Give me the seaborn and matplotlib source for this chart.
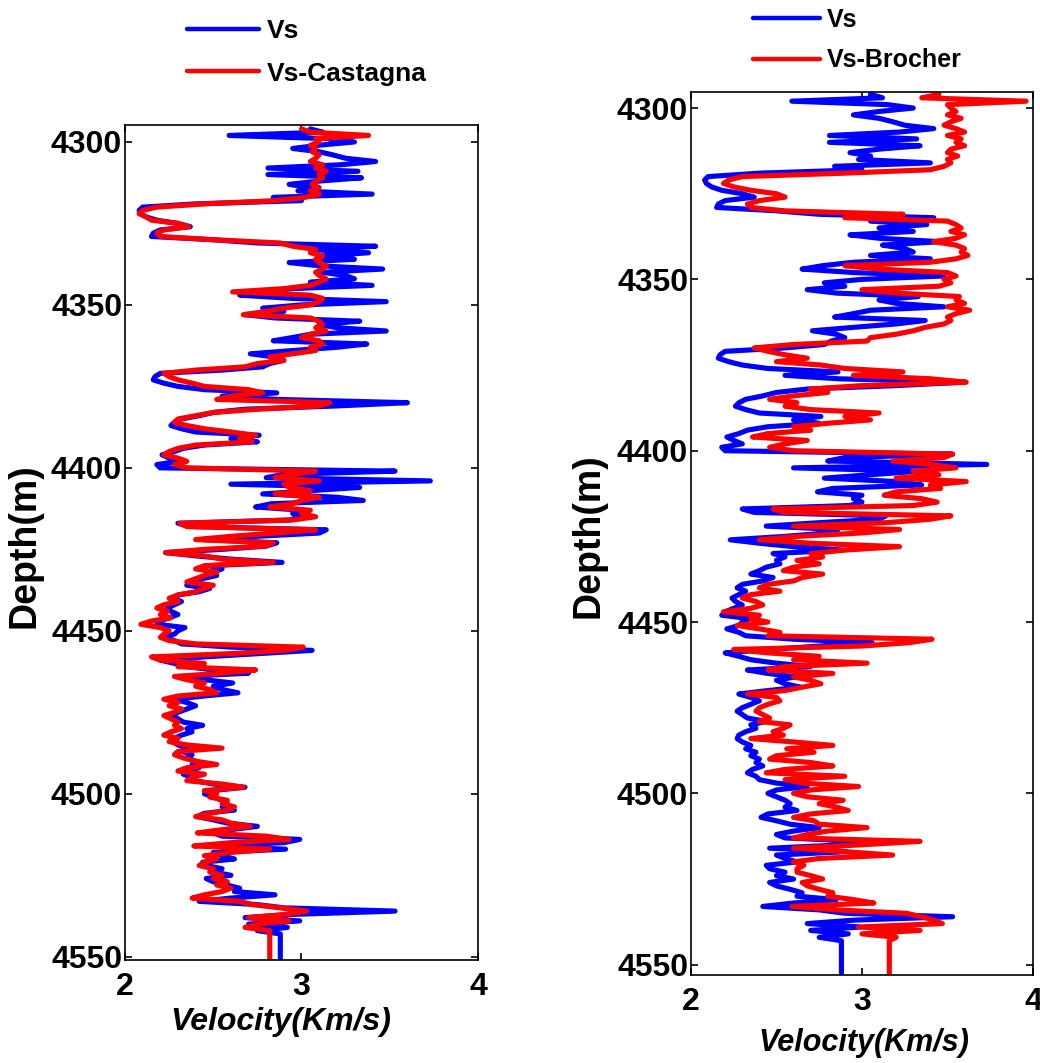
import numpy as np
import pandas as pd
import matplotlib
matplotlib.use("Agg")
import matplotlib.pyplot as plt
import seaborn as sns
from matplotlib.lines import Line2D

# ---------------- data (1 m sampling) ----------------
depth_start = 4296          # first sample depth (m)
tail_depth = 4560           # log continues (constant) past the bottom of the plot

vs = [
    3.05, 3.12, 2.59, 3.15, 3.30, 3.10, 2.95, 3.10, 3.18, 3.25,
    3.42, 3.22, 2.81, 3.32, 2.81, 3.34, 3.10, 2.93, 3.05, 2.98,
    3.40, 2.84, 3.00, 2.40, 2.10, 2.08, 2.09, 2.12, 2.18, 2.30,
    2.37, 2.20, 2.16, 2.15, 2.50, 2.75, 3.42, 3.05, 3.38, 3.10,
    3.30, 2.93, 3.10, 3.46, 3.12, 3.25, 3.30, 3.05, 3.40, 2.95,
    2.77, 2.65, 2.95, 3.48, 3.00, 2.78, 2.90, 2.68, 2.85, 3.33,
    3.10, 3.20, 3.48, 3.05, 2.95, 2.84, 3.37, 3.20, 2.95, 2.71,
    2.85, 2.90, 2.82, 2.78, 2.55, 2.20, 2.17, 2.16, 2.22, 2.30,
    2.45, 2.86, 2.55, 2.86, 3.60, 3.20, 2.68, 2.50, 2.42, 2.32,
    2.28, 2.26, 2.32, 2.40, 2.76, 2.60, 2.75, 2.45, 2.33, 2.28,
    2.21, 2.25, 2.30, 2.18, 2.20, 3.53, 2.90, 2.80, 3.73, 2.60,
    3.33, 3.05, 2.78, 3.20, 3.35, 2.83, 2.74, 3.00, 2.95, 3.00,
    2.93, 2.30, 2.37, 3.14, 3.10, 2.75, 2.44, 2.86, 2.80, 2.55,
    2.23, 2.40, 2.60, 2.89, 2.48, 2.55, 2.50, 2.52, 2.44, 2.40,
    2.35, 2.48, 2.42, 2.30, 2.27, 2.32, 2.28, 2.24, 2.26, 2.30,
    2.25, 2.20, 2.18, 2.34, 2.30, 2.28, 2.21, 2.28, 2.32, 2.60,
    3.06, 2.75, 2.45, 2.20, 2.28, 2.35, 2.50, 2.70, 2.33, 2.45,
    2.61, 2.50, 2.55, 2.64, 2.45, 2.28, 2.35, 2.40, 2.35, 2.30,
    2.27, 2.30, 2.33, 2.44, 2.35, 2.38, 2.32, 2.28, 2.27, 2.30,
    2.35, 2.32, 2.38, 2.35, 2.40, 2.38, 2.42, 2.36, 2.33, 2.38,
    2.40, 2.50, 2.68, 2.50, 2.45, 2.50, 2.55, 2.58, 2.55, 2.62,
    2.45, 2.41, 2.50, 2.58, 2.75, 2.60, 2.50, 2.55, 2.99, 2.90,
    2.46, 2.91, 2.50, 2.55, 2.62, 2.44, 2.46, 2.55, 2.50, 2.60,
    2.46, 2.50, 2.58, 2.65, 2.62, 2.85, 2.60, 2.42, 2.75, 2.90,
    3.53, 2.95, 2.68, 2.99, 2.70, 2.92, 2.75, 2.88,
]

vs_castagna = [
    3.00, 3.05, 3.38, 3.08, 3.10, 3.05, 3.08, 3.06, 3.10, 3.08,
    3.05, 3.12, 3.08, 3.14, 3.10, 3.12, 3.08, 3.06, 3.10, 3.05,
    3.10, 3.02, 2.85, 2.45, 2.18, 2.10, 2.08, 2.12, 2.15, 2.30,
    2.36, 2.22, 2.18, 2.20, 2.50, 2.88, 2.95, 3.08, 3.05, 3.12,
    3.08, 3.10, 3.14, 3.12, 3.08, 3.10, 3.14, 3.10, 3.05, 2.90,
    2.61, 3.05, 3.12, 3.10, 3.05, 2.90, 2.80, 2.67, 3.05, 3.10,
    3.12, 3.08, 3.14, 3.05, 3.00, 3.10, 3.12, 3.05, 3.08, 2.95,
    2.82, 2.90, 2.75, 2.68, 2.40, 2.22, 2.25, 2.30, 2.38, 2.45,
    2.70, 2.78, 2.60, 2.52, 3.16, 3.10, 2.75, 2.50, 2.40, 2.30,
    2.28, 2.35, 2.45, 2.60, 2.74, 2.65, 2.72, 2.40, 2.30, 2.25,
    2.22, 2.30, 2.35, 2.28, 2.35, 3.08, 2.95, 2.85, 3.10, 2.90,
    2.93, 3.05, 2.85, 3.10, 3.00, 2.95, 2.82, 3.05, 3.00, 3.08,
    2.95, 2.31, 2.35, 3.08, 2.85, 2.60, 2.40, 2.84, 2.80, 2.45,
    2.23, 2.45, 2.55, 2.84, 2.45, 2.40, 2.52, 2.45, 2.40, 2.35,
    2.50, 2.45, 2.40, 2.30, 2.25, 2.30, 2.22, 2.18, 2.24, 2.20,
    2.26, 2.15, 2.09, 2.20, 2.25, 2.22, 2.20, 2.25, 2.40, 3.01,
    2.90, 2.60, 2.15, 2.20, 2.45, 2.30, 2.74, 2.55, 2.28, 2.35,
    2.45, 2.40, 2.48, 2.52, 2.30, 2.22, 2.30, 2.25, 2.32, 2.28,
    2.22, 2.26, 2.30, 2.28, 2.32, 2.26, 2.22, 2.30, 2.25, 2.35,
    2.55, 2.30, 2.28, 2.33, 2.40, 2.52, 2.35, 2.30, 2.45, 2.38,
    2.35, 2.55, 2.67, 2.45, 2.52, 2.48, 2.58, 2.55, 2.62, 2.58,
    2.48, 2.40, 2.55, 2.60, 2.71, 2.55, 2.41, 2.80, 2.93, 2.60,
    2.39, 2.82, 2.60, 2.45, 2.52, 2.45, 2.42, 2.50, 2.48, 2.55,
    2.50, 2.58, 2.52, 2.60, 2.55, 2.45, 2.38, 2.65, 2.72, 2.88,
    3.03, 2.91, 2.70, 2.93, 2.75, 2.68, 2.82, 2.82,
]

vs_brocher = [
    3.45, 3.35, 3.96, 3.50, 3.52, 3.55, 3.50, 3.58, 3.52, 3.48,
    3.55, 3.60, 3.50, 3.58, 3.55, 3.60, 3.52, 3.50, 3.56, 3.50,
    3.52, 3.48, 3.40, 2.90, 2.30, 2.22, 2.19, 2.25, 2.35, 2.50,
    2.55, 2.40, 2.33, 2.35, 2.55, 3.24, 2.90, 3.50, 3.55, 3.58,
    3.52, 3.60, 3.55, 3.42, 3.55, 3.60, 3.58, 3.62, 3.55, 3.40,
    2.90, 3.10, 3.50, 3.55, 3.48, 3.52, 3.45, 3.00, 3.20, 3.57,
    3.55, 3.60, 3.50, 3.63, 3.55, 3.50, 3.52, 3.48, 3.37, 3.30,
    3.20, 3.05, 3.03, 2.60, 2.37, 2.45, 2.55, 2.68, 2.50, 2.76,
    2.90, 3.24, 2.95, 3.40, 3.61, 3.00, 2.70, 2.80, 2.60, 2.46,
    2.62, 2.55, 2.70, 3.10, 2.90, 3.05, 2.80, 2.60, 2.70, 2.45,
    2.36, 2.68, 2.55, 2.46, 2.60, 3.53, 3.48, 3.18, 3.40, 3.55,
    3.30, 3.45, 3.20, 3.61, 3.40, 3.46, 3.20, 3.13, 3.35, 3.44,
    3.30, 2.48, 2.55, 3.52, 3.40, 3.14, 2.60, 3.22, 3.00, 2.62,
    2.40, 2.70, 3.22, 2.90, 2.70, 2.77, 2.62, 2.75, 2.60, 2.54,
    2.77, 2.65, 2.60, 2.45, 2.40, 2.52, 2.35, 2.30, 2.38, 2.42,
    2.35, 2.19, 2.40, 2.35, 2.45, 2.27, 2.40, 2.52, 2.45, 3.41,
    3.28, 3.00, 2.25, 2.45, 2.75, 2.60, 3.03, 2.55, 2.45, 2.83,
    2.60, 2.70, 2.76, 2.65, 2.55, 2.33, 2.50, 2.52, 2.45, 2.40,
    2.38, 2.42, 2.46, 2.40, 2.58, 2.54, 2.48, 2.54, 2.35, 2.60,
    2.83, 2.56, 2.72, 2.50, 2.46, 2.70, 2.83, 2.55, 2.44, 2.90,
    2.55, 2.65, 2.98, 2.70, 2.60, 2.68, 2.89, 2.75, 2.85, 2.92,
    2.70, 2.60, 2.72, 2.75, 3.03, 2.80, 2.68, 2.60, 3.34, 3.00,
    2.60, 2.90, 3.18, 2.75, 2.60, 2.66, 2.62, 2.62, 2.70, 2.77,
    2.65, 2.68, 2.75, 2.83, 2.80, 2.95, 3.07, 2.59, 2.85, 3.26,
    3.35, 3.42, 3.47, 2.98, 3.34, 3.00, 3.20, 3.16,
]

x_ticks = [2, 3, 4]
y_ticks = [4300, 4350, 4400, 4450, 4500, 4550]
legend_left = ["Vs", "Vs-Castagna"]
legend_right = ["Vs", "Vs-Brocher"]
x_label = "Velocity(Km/s)"
y_label = "Depth(m)"


def log_frame(values, name):
    d = list(np.arange(depth_start, depth_start + len(values))) + [tail_depth]
    v = list(values) + [values[-1]]
    return pd.DataFrame({"velocity": v, "depth": d, "curve": name})


# ---------------- style ----------------
sns.set_style("ticks")
FONT = ["Liberation Sans", "DejaVu Sans"]
plt.rcParams["font.family"] = FONT
plt.rcParams["font.weight"] = "bold"
plt.rcParams["axes.linewidth"] = 1.2
plt.rcParams["axes.edgecolor"] = "black"
plt.rcParams["text.color"] = "black"
plt.rcParams["axes.labelcolor"] = "black"
plt.rcParams["xtick.color"] = "black"
plt.rcParams["ytick.color"] = "black"

fig = plt.figure(figsize=(10.4, 10.63), dpi=100)
ax_l = fig.add_axes([0.1202, 0.0969, 0.3394, 0.7855])
ax_r = fig.add_axes([0.6644, 0.0828, 0.3288, 0.8307])

palette = {"Vs": "#0000ff", "Vs-Castagna": "#ff0000", "Vs-Brocher": "#ff0000"}


def draw_panel(ax, red_values, red_name, ylim, xlabel_pos, xlabel_size, ylabel_pos):
    df = pd.concat([log_frame(vs, "Vs"), log_frame(red_values, red_name)],
                   ignore_index=True)
    sns.lineplot(data=df, x="velocity", y="depth", hue="curve",
                 palette=palette, sort=False, estimator=None,
                 linewidth=3.7, legend=False, ax=ax,
                 solid_capstyle="round", solid_joinstyle="round")
    ax.set_xlim(2, 4)
    ax.set_ylim(*ylim)
    ax.set_xticks(x_ticks)
    ax.set_yticks(y_ticks)
    ax.set_xticklabels([str(t) for t in x_ticks])
    ax.set_yticklabels([str(t) for t in y_ticks])
    ax.tick_params(direction="in", length=5, width=1.2, top=True, right=True,
                   labelsize=23, colors="black")
    ax.tick_params(axis="y", pad=2)
    ax.tick_params(axis="x", pad=9)
    for lab in ax.get_xticklabels() + ax.get_yticklabels():
        lab.set_fontweight("bold")
    for s in ax.spines.values():
        s.set_visible(True)
        s.set_color("black")
    ax.set_xlabel(x_label, fontsize=xlabel_size, fontweight="bold",
                  fontstyle="italic", color="black")
    ax.xaxis.set_label_coords(*xlabel_pos)
    ax.set_ylabel(y_label, fontsize=27, fontweight="bold", color="black")
    ax.yaxis.set_label_coords(*ylabel_pos)


draw_panel(ax_l, vs_castagna, "Vs-Castagna", (4551, 4294.8),
           (0.44, -0.056), 23, (-0.235, 0.496))
draw_panel(ax_r, vs_brocher, "Vs-Brocher", (4553, 4295.3),
           (0.506, -0.060), 22, (-0.246, 0.498))


def add_legend(names, anchor, size, hlen, spacing):
    handles = [Line2D([], [], color=palette[n], lw=3.2) for n in names]
    fig.legend(handles, names, loc="upper left", bbox_to_anchor=anchor,
               frameon=False,
               prop={"family": FONT, "weight": "bold", "size": size},
               handlelength=hlen, handletextpad=0.3, labelspacing=spacing,
               borderpad=0, borderaxespad=0)


add_legend(legend_left, (0.18, 0.9817), 19, 2.72, 0.69)
add_legend(legend_right, (0.724, 0.9925), 18, 2.67, 0.66)

fig.savefig("out.png", dpi=100, facecolor="white")
